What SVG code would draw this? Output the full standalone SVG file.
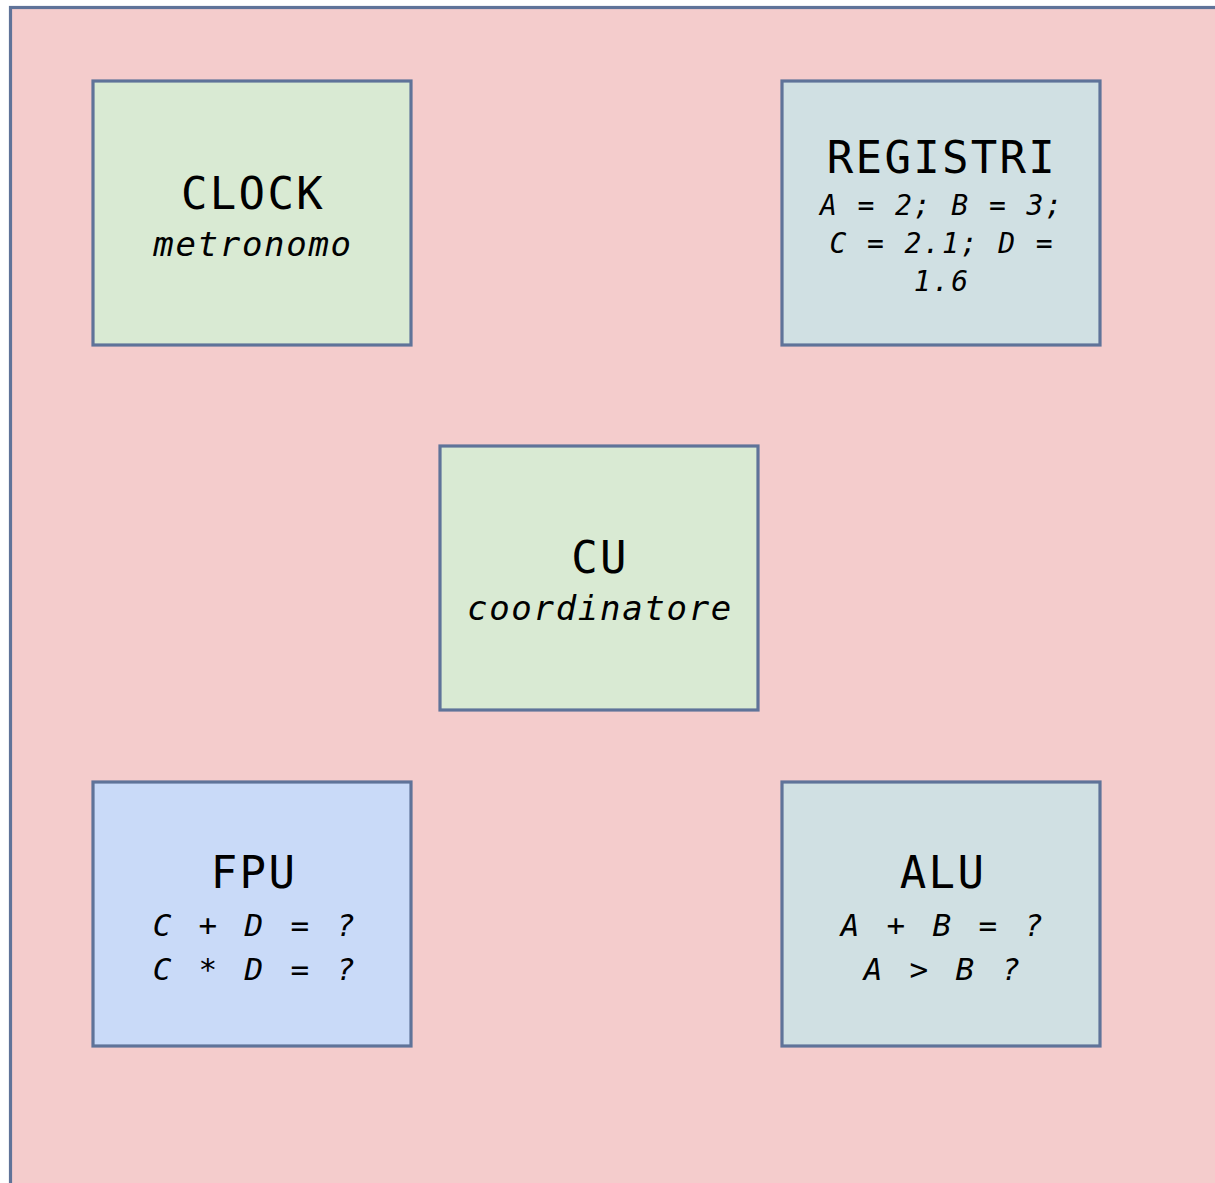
<svg xmlns="http://www.w3.org/2000/svg" width="1215" height="1183" viewBox="0 0 1215 1183">
<style>
.box{stroke:#5f7399;stroke-width:3.2}
.t{font-family:"DejaVu Sans Mono",monospace;text-anchor:middle;fill:#000}
.h{font-size:44px;letter-spacing:2.3px}
.s{font-size:34px;font-style:italic;letter-spacing:1.7px}
.r{font-size:28px;font-style:italic;letter-spacing:1.9px}
.f{font-size:31px;font-style:italic;letter-spacing:4.3px}
</style>
<rect x="0" y="0" width="1215" height="1183" fill="#ffffff"/>
<rect x="10.5" y="7.5" width="1250" height="1220" fill="#f4cccc" class="box"/>
<g id="connectors"></g>
<g id="clock">
<rect x="93" y="81" width="318" height="264" fill="#d9ead3" class="box"/>
<text class="t h" x="253" y="209">CLOCK</text>
<text class="t s" x="253" y="256">metronomo</text>
</g>
<g id="registri">
<rect x="782" y="81" width="318" height="264" fill="#d0e0e3" class="box"/>
<text class="t h" x="942" y="173">REGISTRI</text>
<text class="t r" x="942" y="215">A = 2; B = 3;</text>
<text class="t r" x="942" y="253">C = 2.1; D =</text>
<text class="t r" x="942" y="291">1.6</text>
</g>
<g id="cu">
<rect x="440" y="446" width="318" height="264" fill="#d9ead3" class="box"/>
<text class="t h" x="600" y="573">CU</text>
<text class="t s" x="600" y="620">coordinatore</text>
</g>
<g id="fpu">
<rect x="93" y="782" width="318" height="264" fill="#c9daf8" class="box"/>
<text class="t h" x="254" y="888">FPU</text>
<text class="t f" x="256" y="936">C + D = ?</text>
<text class="t f" x="256" y="980">C * D = ?</text>
</g>
<g id="alu">
<rect x="782" y="782" width="318" height="264" fill="#d0e0e3" class="box"/>
<text class="t h" x="943" y="888">ALU</text>
<text class="t f" x="944" y="936">A + B = ?</text>
<text class="t f" x="944" y="980">A &gt; B ?</text>
</g>
</svg>
